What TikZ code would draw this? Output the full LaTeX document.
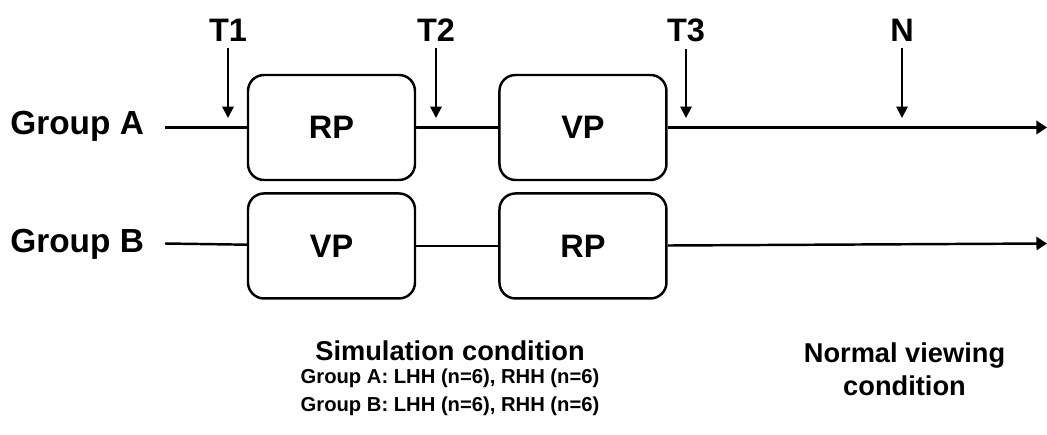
\documentclass[tikz,border=0pt]{standalone}
\usepackage{fontspec}
\setmainfont{Liberation Sans}
\usetikzlibrary{positioning,arrows.meta}

\tikzset{
  phase/.style={draw, rectangle, rounded corners=0.32cm, line width=1.4pt,
    minimum width=3.34cm, minimum height=2.1cm, font=\fontsize{18.5}{22}\selectfont\bfseries},
  grouplabel/.style={anchor=base west, inner sep=0pt, font=\fontsize{19}{23}\selectfont\bfseries},
  timelabel/.style={anchor=base, font=\fontsize{18.5}{22}\selectfont\bfseries},
  notehead/.style={anchor=base, inner sep=0pt, font=\fontsize{15.5}{18.6}\selectfont\bfseries},
  noteline/.style={anchor=base, inner sep=0pt, font=\fontsize{11.5}{14}\selectfont\bfseries},
  timeline/.style={line width=1.4pt},
  timearrow/.style={line width=1.4pt, -{Triangle[length=6pt, width=7.5pt]}},
  timemark/.style={line width=1.1pt, -{Triangle[length=6.5pt, width=6.5pt]}},
}

\begin{document}
\begin{tikzpicture}
    \useasboundingbox (0,0) rectangle (20.94,-8.7);

    % Group A nodes
    \node (groupa) [grouplabel] at (0.2,-2.7) {Group A};
    \coordinate (starta) at (3.3,-2.55);
    \node (rpa) [phase] at (6.63,-2.55) {RP};
    \node (vpa) [phase, right=1.64cm of rpa] {VP};
    \coordinate (enda) at (20.94,-2.55);

    % Group B nodes
    \node (groupb) [grouplabel] at (0.2,-5.06) {Group B};
    \coordinate (startb) at (3.3,-4.87);
    \node (vpb) [phase, below=0.22cm of rpa] {VP};
    \node (rpb) [phase, right=1.64cm of vpb] {RP};
    \coordinate (endb) at (20.94,-4.87);

    % Measurement times
    \node (t1) [timelabel] at (4.56,-0.84) {T1};
    \node (t2) [timelabel] at (8.72,-0.84) {T2};
    \node (t3) [timelabel] at (13.72,-0.84) {T3};
    \node (n) [timelabel] at (18.04,-0.84) {N};
    \coordinate (t1tip) at (4.56,-2.36);
    \coordinate (t2tip) at (8.72,-2.36);
    \coordinate (t3tip) at (13.72,-2.36);
    \coordinate (ntip) at (18.04,-2.36);

    % Conditions
    \node (simcond) [notehead] at (9.0,-7.2) {Simulation condition};
    \node (simgroupa) [noteline] at (9.0,-7.66) {Group A: LHH (n=6), RHH (n=6)};
    \node (simgroupb) [noteline] at (9.0,-8.22) {Group B: LHH (n=6), RHH (n=6)};
    \node (normcond) [notehead, anchor=center, align=center] at (18.09,-7.38) {Normal viewing\\condition};

    % Lines
    \draw[timeline] (starta) -- (rpa);
    \draw[timeline] (rpa) -- (vpa);
    \draw[timearrow] (vpa) -- (enda);

    \draw[timeline] (startb) -- (vpb);
    \draw[timeline] (vpb) -- (rpb);
    \draw[timearrow] (rpb) -- (endb);

    % Arrows
    \draw[timemark] (t1) -- (t1tip);
    \draw[timemark] (t2) -- (t2tip);
    \draw[timemark] (t3) -- (t3tip);
    \draw[timemark] (n) -- (ntip);
\end{tikzpicture}
\end{document}
